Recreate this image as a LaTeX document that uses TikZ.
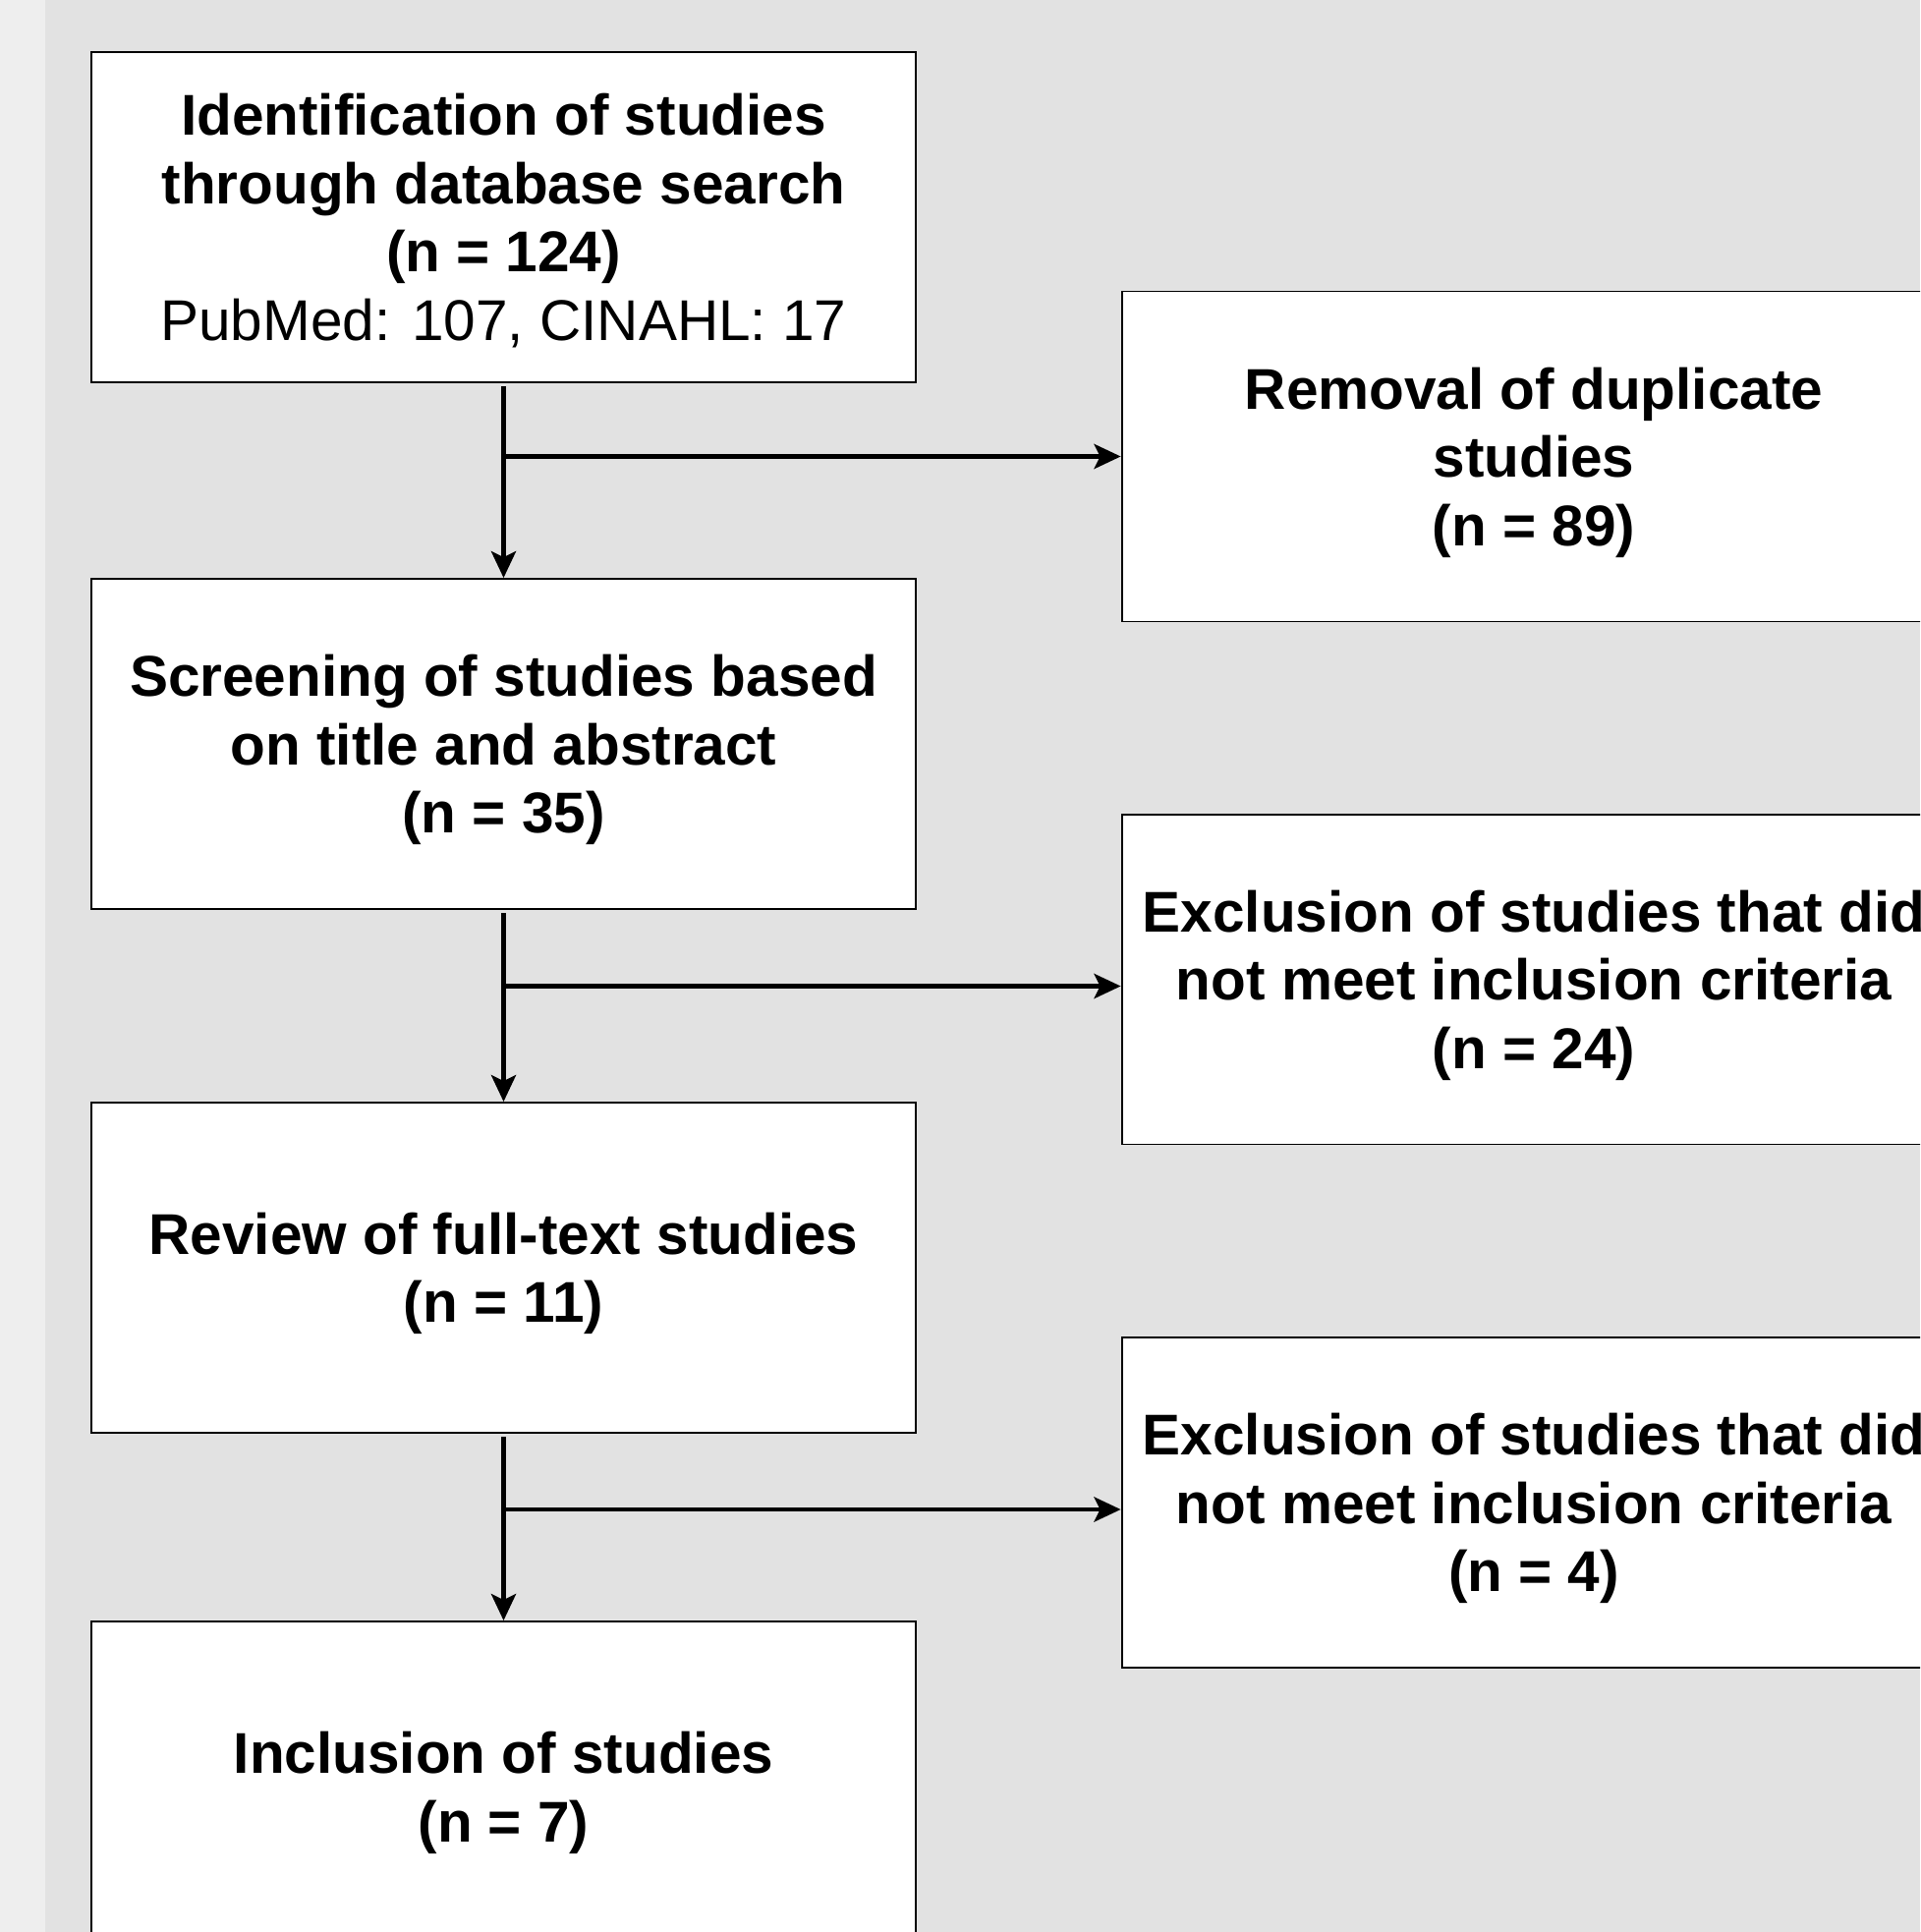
\documentclass[tikz,border=0pt]{standalone}
\usepackage{fontspec}
\setmainfont{Liberation Sans}
\usetikzlibrary{arrows.meta,calc}
\definecolor{bgmain}{HTML}{E2E2E2}
\definecolor{bgstrip}{HTML}{EEEEEE}

\begin{document}
\begin{tikzpicture}[x=0.02cm, y=-0.02cm]
\tikzset{StepBox/.style = {draw, line width=1.1pt, fill=white, minimum width=16.78cm, minimum height=6.72cm, align=center, inner sep=0pt, text depth=0pt, font=\fontsize{33.3}{39.6}\selectfont\bfseries}}
\tikzset{FlowArrow/.style = {-{Stealth[length=0.54cm, width=0.5cm, inset=0.12cm]}, line width=2.8pt}}
	\clip (0,0) rectangle (1954,1966);
	\fill[bgmain] (0,0) rectangle (1954,1966);
	\fill[bgstrip] (0,0) rectangle (46,1966);

	\node[StepBox] (ident) at (512.5,221) {Identification of studies\\through database search\\(n = 124)\\{\mdseries PubMed: 107, CINAHL: 17}};
	\node[StepBox] (screen) at (512.5,757) {Screening of studies based\\on title and abstract\\(n = 35)};
	\node[StepBox] (review) at (512.5,1290) {Review of full-text studies\\(n = 11)};
	\node[StepBox] (incl) at (512.5,1818) {Inclusion of studies\\(n = 7)};

	\node[StepBox] (dup) at (1561,464.5) {Removal of duplicate\\studies\\(n = 89)};
	\node[StepBox] (excl1) at (1561,996.5) {Exclusion of studies that did\\not meet inclusion criteria\\(n = 24)};
	\node[StepBox] (excl2) at (1561,1529) {Exclusion of studies that did\\not meet inclusion criteria\\(n = 4)};

	\draw[FlowArrow, shorten <=2pt] (ident) -- (screen);
	\draw[FlowArrow] (ident.south |- dup.west) -- (dup.west);
	\draw[FlowArrow, shorten <=2pt] (screen) -- (review);
	\draw[FlowArrow] ($(screen.south |- excl1.west)+(0,7)$) -- ($(excl1.west)+(0,7)$);
	\draw[FlowArrow, shorten <=2pt] (review) -- (incl);
	\draw[FlowArrow] ($(review.south |- excl2.west)+(0,7)$) -- ($(excl2.west)+(0,7)$);
\end{tikzpicture}
\end{document}
